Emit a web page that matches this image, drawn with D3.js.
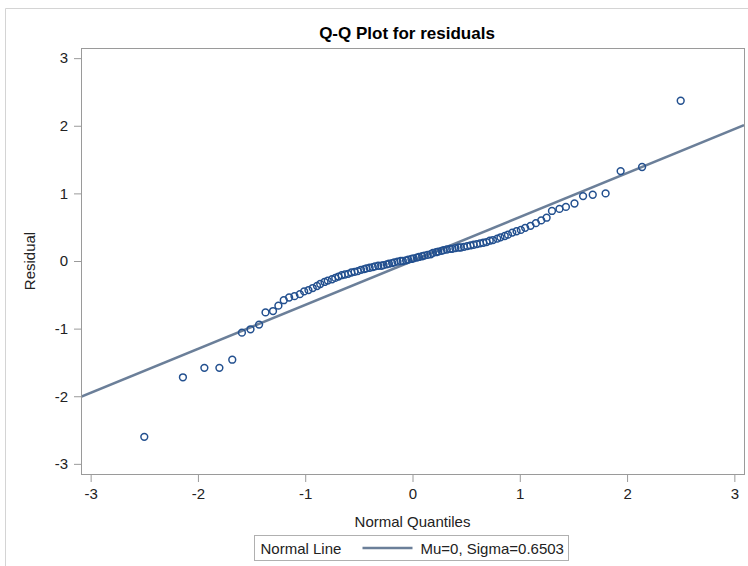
<!DOCTYPE html>
<html>
<head>
<meta charset="utf-8">
<script src="https://cdn.jsdelivr.net/npm/d3@7"></script>
<style>
  body { margin: 0; background: #fff; }
  text { font-family: "Liberation Sans", Arial, sans-serif; }
</style>
</head>
<body>
<div id="chart"></div>
<script>
// normal quantiles (x), sorted
var quantiles = [-2.50, -2.14, -1.94, -1.80, -1.68, -1.59, -1.51, -1.43, -1.37, -1.30,
    -1.25, -1.20, -1.15, -1.10, -1.05, -1.01, -0.97, -0.93, -0.89, -0.86,
    -0.82, -0.79, -0.75, -0.72, -0.69, -0.66, -0.63, -0.60, -0.57, -0.54,
    -0.51, -0.48, -0.45, -0.43, -0.40, -0.37, -0.35, -0.32, -0.29, -0.27,
    -0.24, -0.22, -0.19, -0.17, -0.14, -0.11, -0.09, -0.06, -0.04, -0.01,
    0.01, 0.04, 0.06, 0.09, 0.11, 0.14, 0.17, 0.19, 0.22, 0.24,
    0.27, 0.29, 0.32, 0.35, 0.37, 0.40, 0.43, 0.45, 0.48, 0.51,
    0.54, 0.57, 0.60, 0.63, 0.66, 0.69, 0.72, 0.75, 0.79, 0.82,
    0.86, 0.89, 0.93, 0.97, 1.01, 1.05, 1.10, 1.15, 1.20, 1.25,
    1.30, 1.37, 1.43, 1.51, 1.59, 1.68, 1.80, 1.94, 2.14, 2.50];

// sorted residuals (y)
var residuals = [-2.60, -1.72, -1.58, -1.58, -1.46, -1.06, -1.01, -0.94, -0.76, -0.74,
    -0.66, -0.58, -0.54, -0.52, -0.49, -0.45, -0.43, -0.40, -0.37, -0.34,
    -0.31, -0.29, -0.27, -0.25, -0.23, -0.21, -0.20, -0.19, -0.17, -0.16,
    -0.15, -0.13, -0.12, -0.11, -0.10, -0.09, -0.08, -0.07, -0.07, -0.06,
    -0.05, -0.04, -0.03, -0.02, -0.01, 0.00, 0.00, 0.01, 0.02, 0.03,
    0.04, 0.05, 0.06, 0.07, 0.08, 0.09, 0.10, 0.12, 0.13, 0.14,
    0.15, 0.16, 0.17, 0.18, 0.18, 0.19, 0.20, 0.20, 0.21, 0.22,
    0.23, 0.24, 0.25, 0.26, 0.27, 0.28, 0.30, 0.31, 0.33, 0.35,
    0.37, 0.39, 0.42, 0.44, 0.46, 0.49, 0.52, 0.56, 0.60, 0.64,
    0.74, 0.77, 0.80, 0.85, 0.96, 0.98, 1.00, 1.33, 1.39, 2.37];

var xTicks = [-3, -2, -1, 0, 1, 2, 3];
var yTicks = [-3, -2, -1, 0, 1, 2, 3];

var mu = 0;
var sigma = 0.6503;

var chartTitle = "Q-Q Plot for residuals";
var xLabel = "Normal Quantiles";
var yLabel = "Residual";
var legendName = "Normal Line";
var legendValue = "Mu=0, Sigma=0.6503";

var width = 748, height = 566;
var box = { left: 81, right: 744, top: 48, bottom: 474 };

var svg = d3.select("#chart")
    .append("svg")
    .attr("width", width)
    .attr("height", height);

// outer frame of the graph
svg.append("path")
    .attr("d", `M5.5,${height}V8.5H${width}`)
    .attr("fill", "none")
    .attr("stroke", "#d4d4d4");

var x = d3.scaleLinear().domain([-3.09, 3.09]).range([box.left, box.right]);
var y = d3.scaleLinear().domain([-3.15, 3.15]).range([box.bottom, box.top]);

svg.append("text")
    .attr("x", 407)
    .attr("y", 39)
    .attr("text-anchor", "middle")
    .attr("font-size", 17)
    .attr("font-weight", "bold")
    .attr("fill", "#000")
    .text(chartTitle);

// SAS prints a plain hyphen for negatives
var plainNum = d => String(d);

var xAxis = svg.append("g")
    .attr("transform", `translate(0,${box.bottom})`)
    .call(d3.axisBottom(x).tickValues(xTicks).tickSize(8).tickPadding(6).tickFormat(plainNum));

var yAxis = svg.append("g")
    .attr("transform", `translate(${box.left},0)`)
    .call(d3.axisLeft(y).tickValues(yTicks).tickSize(7).tickPadding(6).tickFormat(plainNum));

[xAxis, yAxis].forEach(function (g) {
    g.select(".domain").remove();
    g.selectAll(".tick line").attr("stroke", "#9a9a9a");
    g.selectAll(".tick text")
        .attr("font-size", 15)
        .attr("font-family", "Liberation Sans, Arial, sans-serif")
        .attr("fill", "#222");
});

// plot area border
svg.append("rect")
    .attr("x", box.left + 0.5)
    .attr("y", box.top + 0.5)
    .attr("width", box.right - box.left)
    .attr("height", box.bottom - box.top)
    .attr("fill", "none")
    .attr("stroke", "#9a9a9a");

svg.append("defs").append("clipPath")
    .attr("id", "plot-clip")
    .append("rect")
    .attr("x", box.left + 1)
    .attr("y", box.top + 1)
    .attr("width", box.right - box.left - 1)
    .attr("height", box.bottom - box.top - 1);

var plot = svg.append("g").attr("clip-path", "url(#plot-clip)");

// normal reference line y = mu + sigma * q
var xd = x.domain();
plot.append("line")
    .attr("x1", x(xd[0]))
    .attr("y1", y(mu + sigma * xd[0]))
    .attr("x2", x(xd[1]))
    .attr("y2", y(mu + sigma * xd[1]))
    .attr("stroke", "#6b7f99")
    .attr("stroke-width", 2.6);

var points = quantiles.map((q, i) => ({ q: q, r: residuals[i] }));

plot.append("g")
    .selectAll("circle")
    .data(points)
    .join("circle")
    .attr("cx", d => x(d.q))
    .attr("cy", d => y(d.r))
    .attr("r", 3.4)
    .attr("fill", "none")
    .attr("stroke", "#23508f")
    .attr("stroke-width", 1.5);

svg.append("text")
    .attr("x", (box.left + box.right) / 2)
    .attr("y", 527)
    .attr("text-anchor", "middle")
    .attr("font-size", 15)
    .attr("fill", "#222")
    .text(xLabel);

svg.append("text")
    .attr("transform", `translate(35,${y(0)}) rotate(-90)`)
    .attr("text-anchor", "middle")
    .attr("font-size", 15)
    .attr("fill", "#222")
    .text(yLabel);

// legend
var legend = svg.append("g").attr("transform", "translate(254.5,535.5)");

legend.append("rect")
    .attr("width", 314)
    .attr("height", 25)
    .attr("fill", "#fff")
    .attr("stroke", "#b0b0b0");

legend.append("text")
    .attr("x", 6)
    .attr("y", 18)
    .attr("font-size", 15)
    .attr("fill", "#222")
    .text(legendName);

legend.append("line")
    .attr("x1", 108)
    .attr("x2", 158)
    .attr("y1", 12.5)
    .attr("y2", 12.5)
    .attr("stroke", "#6b7f99")
    .attr("stroke-width", 2.6);

legend.append("text")
    .attr("x", 166)
    .attr("y", 18)
    .attr("font-size", 15)
    .attr("fill", "#222")
    .text(legendValue);
</script>
</body>
</html>
